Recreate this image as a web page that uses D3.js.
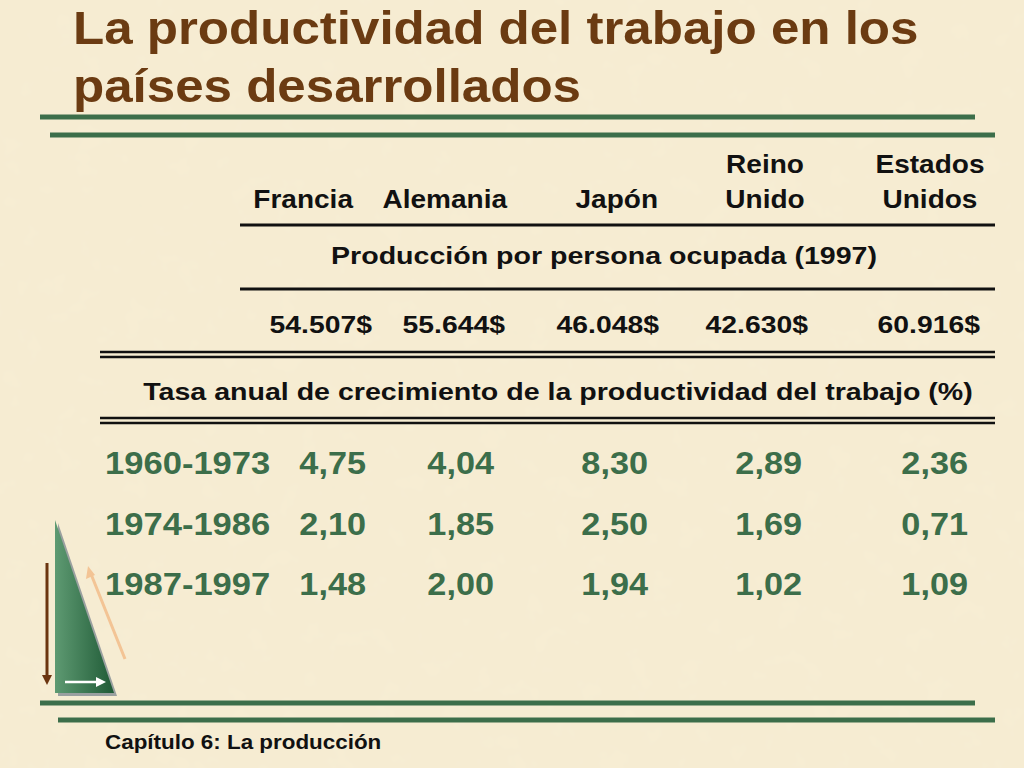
<!DOCTYPE html>
<html><head><meta charset="utf-8">
<script src="https://cdn.jsdelivr.net/npm/d3@7"></script>
<style>body{margin:0;background:#f6ebcf;}svg{display:block;font-family:"Liberation Sans",Arial,sans-serif;font-weight:bold;}</style>
</head><body><svg width="1024" height="768"></svg>
<script>
const countries = [["Francia"],["Alemania"],["Japón"],["Reino","Unido"],["Estados","Unidos"]];
const production = ["54.507$","55.644$","46.048$","42.630$","60.916$"];
const periods = ["1960-1973","1974-1986","1987-1997"];
const rates = [
  ["4,75","4,04","8,30","2,89","2,36"],
  ["2,10","1,85","2,50","1,69","0,71"],
  ["1,48","2,00","1,94","1,02","1,09"]
];
const svg = d3.select("svg");
const defs = svg.append("defs");
const f = defs.append("filter").attr("id","noise");
f.append("feTurbulence").attr("type","fractalNoise").attr("baseFrequency",0.04).attr("numOctaves",3).attr("seed",3);
f.append("feColorMatrix").attr("values","0 0 0 0 0.85  0 0 0 0 0.78  0 0 0 0 0.6  0 0 0 0.18 0");
svg.append("rect").attr("width",1024).attr("height",768).attr("fill","#f7edd3");
svg.append("rect").attr("width",1024).attr("height",768).attr("filter","url(#noise)");
const g = defs.append("linearGradient").attr("id","tri").attr("x1",0).attr("x2",1);
g.append("stop").attr("offset",0).attr("stop-color","#5e9a72");
g.append("stop").attr("offset",1).attr("stop-color","#1f5a36");

function stretch(sel,k){sel.each(function(){const w=this.getComputedTextLength();d3.select(this).attr("textLength",w*k).attr("lengthAdjust","spacingAndGlyphs");});return sel;}

// title
const title = svg.append("text").attr("fill","#6b3b12").attr("font-size",46);
stretch(title.append("tspan").attr("x",73).attr("y",44).text("La productividad del trabajo en los"),1.11);
stretch(title.append("tspan").attr("x",73).attr("y",102).text("países desarrollados"),1.11);

const green="#3c6e4a";
function hline(x1,x2,y,w,c){svg.append("line").attr("x1",x1).attr("x2",x2).attr("y1",y).attr("y2",y).attr("stroke",c).attr("stroke-width",w);}
hline(40,975,117,5,green); hline(50,995,135,5,green);
hline(40,975,703,5,green); hline(58,995,720,5,green);

const colRight = d3.scaleOrdinal().domain(d3.range(5)).range([353,507,658,805,980]);
const headCenter = d3.scaleOrdinal().domain(d3.range(5)).range([303,444,617,765,930]);
const valRight = d3.scaleOrdinal().domain(d3.range(5)).range([372,505,659,808,980]);
const rateRight = d3.scaleOrdinal().domain(d3.range(5)).range([366,494,648,802,968]);
const rowY = d3.scalePoint().domain(periods).range([474,595]);

countries.forEach((c,i)=>{
  c.forEach((t,j)=>{
    const y = c.length===2 ? 173+j*35 : 208;
    stretch(svg.append("text").attr("x", c.length===2?headCenter(i):colRight(i)).attr("y",y)
      .attr("text-anchor", c.length===2?"middle":"end").attr("font-size",25).attr("fill","#111").text(t),1.12);
  });
});
hline(240,995,225,3,"#111");
stretch(svg.append("text").attr("x",604).attr("y",264).attr("text-anchor","middle").attr("font-size",24).attr("fill","#111").text("Producción por persona ocupada (1997)"),1.19);
hline(240,995,289,3,"#111");
production.forEach((v,i)=>stretch(svg.append("text").attr("x",valRight(i)).attr("y",333).attr("text-anchor","end").attr("font-size",24).attr("fill","#111").text(v),1.18));
hline(100,995,352,2.5,"#111"); hline(100,995,357,2.5,"#111");
stretch(svg.append("text").attr("x",558).attr("y",400).attr("text-anchor","middle").attr("font-size",24).attr("fill","#111").text("Tasa anual de crecimiento de la productividad del trabajo  (%)"),1.19);
hline(100,995,418,2.5,"#111"); hline(100,995,423,2.5,"#111");

periods.forEach((p,r)=>{
  stretch(svg.append("text").attr("x",105).attr("y",rowY(p)).attr("font-size",32).attr("fill",green).text(p),1.08);
  rates[r].forEach((v,i)=>stretch(svg.append("text").attr("x",rateRight(i)).attr("y",rowY(p)).attr("text-anchor","end").attr("font-size",32).attr("fill",green).text(v),1.07));
});

svg.append("path").attr("d","M58,523 L58,696 L117,696 Z").attr("fill","#9aa0a0");
svg.append("path").attr("d","M55,520 L55,693 L114,693 Z").attr("fill","url(#tri)");
svg.append("line").attr("x1",47).attr("y1",563).attr("x2",47).attr("y2",678).attr("stroke","#6b3510").attr("stroke-width",3);
svg.append("path").attr("d","M42,675 L52,675 L47,685 Z").attr("fill","#6b3510");
svg.append("line").attr("x1",125).attr("y1",659).attr("x2",91).attr("y2",574).attr("stroke","#f3c495").attr("stroke-width",3);
svg.append("path").attr("d","M88,566 L86,579 L95,575 Z").attr("fill","#f3c495");
svg.append("line").attr("x1",65).attr("y1",682).attr("x2",98).attr("y2",682).attr("stroke","#fff").attr("stroke-width",2.5);
svg.append("path").attr("d","M96,677 L106,682 L96,687 Z").attr("fill","#fff");

stretch(svg.append("text").attr("x",105).attr("y",749).attr("font-size",20).attr("fill","#111").text("Capítulo 6: La producción"),1.12);
</script></body></html>
